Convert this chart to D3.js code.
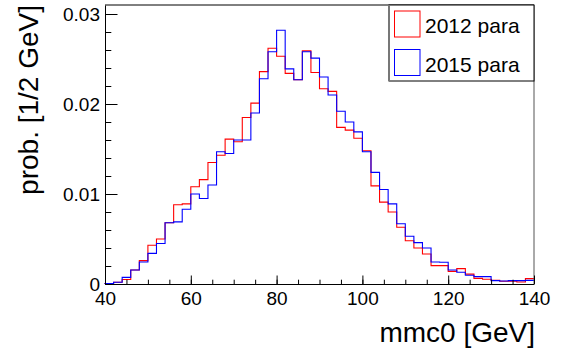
<!DOCTYPE html>
<html>
<head>
<meta charset="utf-8">
<script src="https://cdn.jsdelivr.net/npm/d3@7"></script>
<style>
  html, body { margin: 0; padding: 0; background: #fff; }
  svg { display: block; }
  text { font-family: "Liberation Sans", Arial, Helvetica, sans-serif; fill: #000; }
</style>
</head>
<body>
<svg id="chart" width="561" height="356"></svg>
<script>
// ---- data ----
const binEdges = d3.range(40, 141, 2); // 50 bins of 2 GeV, 40..140
const series2012 = [
  0.00005, 0.0002, 0.0005, 0.00156, 0.0026, 0.0043, 0.0050, 0.0068, 0.0088, 0.0089,
  0.0108, 0.0116, 0.0135, 0.0143, 0.0161, 0.0158, 0.0185, 0.0201, 0.0236, 0.0262,
  0.0253, 0.0234, 0.0227, 0.0259, 0.0235, 0.0217, 0.0214, 0.0174, 0.0171, 0.0162,
  0.0148, 0.0109, 0.0091, 0.0080, 0.0063, 0.0048, 0.0040, 0.00334, 0.00204, 0.00204,
  0.0014, 0.00171, 0.0011, 0.00063, 0.00052, 0.00041, 0.0003, 0.0003, 0.00022, 0.0006
];
const series2015 = [
  0.00005, 0.0002, 0.00074, 0.00156, 0.00245, 0.0034, 0.0045, 0.0068, 0.0069, 0.0083,
  0.0100, 0.0095, 0.0110, 0.0147, 0.0145, 0.0160, 0.0160, 0.0190, 0.0228, 0.0258,
  0.0282, 0.0239, 0.0227, 0.0258, 0.0251, 0.0230, 0.0210, 0.0192, 0.0180, 0.0169,
  0.0147, 0.0124, 0.0105, 0.0089, 0.0067, 0.0053, 0.0046, 0.0040, 0.00245, 0.00242,
  0.00156, 0.0013, 0.00097, 0.00082, 0.00082, 0.00037, 0.00033, 0.00037, 0.00037, 0.0004
];
const xMajorTicks = [40, 60, 80, 100, 120, 140];
const xMinorTicks = d3.range(40, 141, 5);
const yMajorTicks = [0, 0.01, 0.02, 0.03];
const yTickLabels = ["0", "0.01", "0.02", "0.03"];
const yMinorTicks = d3.range(0, 0.0311, 0.002);
const legendLabels = ["2012 para", "2015 para"];
const seriesColors = ["#ff0000", "#0000ff"];
const xTitle = "mmc0 [GeV]";
const yTitle = "prob. [1/2 GeV]";

// ---- layout ----
const L = 105, R = 534, T = 5, B = 284;
const svg = d3.select("#chart");
const x = d3.scaleLinear().domain([40, 140]).range([L, R]);
const y = d3.scaleLinear().domain([0, 0.031]).range([B, T]);

// histograms
function stepPath(vals) {
  const p = d3.path();
  p.moveTo(x(binEdges[0]), y(0));
  vals.forEach((v, i) => {
    p.lineTo(x(binEdges[i]), y(v));
    p.lineTo(x(binEdges[i + 1]), y(v));
  });
  return p.toString();
}
[series2012, series2015].forEach((s, i) => {
  svg.append("path").attr("d", stepPath(s))
    .attr("fill", "none").attr("stroke", seriesColors[i]).attr("stroke-width", 1.1);
});

// frame top & right
svg.append("line").attr("x1", L).attr("x2", R).attr("y1", T).attr("y2", T)
  .attr("stroke", "#000").attr("stroke-width", 1);
svg.append("line").attr("x1", R).attr("x2", R).attr("y1", T).attr("y2", B)
  .attr("stroke", "#555").attr("stroke-width", 1);

// x axis
const gx = svg.append("g").attr("transform", `translate(0,${B})`);
gx.call(d3.axisBottom(x).tickValues(xMinorTicks).tickSizeInner(-4.3).tickSizeOuter(0).tickFormat(""));
gx.call(g => g.selectAll(".tick line").attr("stroke", "#000"));
const gx2 = svg.append("g").attr("transform", `translate(0,${B})`);
gx2.call(d3.axisBottom(x).tickValues(xMajorTicks).tickSizeInner(-8.5).tickSizeOuter(0).tickPadding(0).tickFormat(d3.format("d")));
gx2.select(".domain").attr("stroke", "#000");
gx2.selectAll(".tick text").attr("font-size", 19).attr("dy", null).attr("y", 20.5)
  .attr("font-family", '"Liberation Sans", Arial, sans-serif').attr("fill", "#000");
gx.select(".domain").remove();

// y axis
const gy = svg.append("g").attr("transform", `translate(${L},0)`);
gy.call(d3.axisLeft(y).tickValues(yMinorTicks).tickSizeInner(-6.3).tickSizeOuter(0).tickFormat(""));
gy.select(".domain").remove();
const gy2 = svg.append("g").attr("transform", `translate(${L},0)`);
gy2.call(d3.axisLeft(y).tickValues(yMajorTicks).tickSizeInner(-12.5).tickSizeOuter(0).tickPadding(0)
  .tickFormat((d, i) => yTickLabels[i]));
gy2.select(".domain").attr("stroke", "#000");
gy2.selectAll(".tick text").attr("font-size", 19).attr("x", -5).attr("dy", "0.35em")
  .attr("font-family", '"Liberation Sans", Arial, sans-serif').attr("fill", "#000");

// axis titles
svg.append("text").attr("x", 535).attr("y", 342).attr("text-anchor", "end")
  .attr("font-size", 28).text(xTitle);
svg.append("text").attr("transform", "translate(38,5) rotate(-90)").attr("text-anchor", "end")
  .attr("font-size", 28).text(yTitle);

// legend
const lg = svg.append("g");
lg.append("rect").attr("x", 389).attr("y", T).attr("width", R - 389).attr("height", 81 - T)
  .attr("fill", "#fff").attr("stroke", "#000").attr("stroke-width", 1);
lg.append("line").attr("x1", 389).attr("x2", 389).attr("y1", T).attr("y2", 81)
  .attr("stroke", "#777").attr("stroke-width", 2);
legendLabels.forEach((lab, i) => {
  const cy = 24 + i * 38.5;
  lg.append("rect").attr("x", 394.5).attr("y", cy - 13).attr("width", 25.5).attr("height", 26)
    .attr("fill", "#fff").attr("stroke", seriesColors[i]).attr("stroke-width", 1);
  lg.append("text").attr("x", 425).attr("y", cy + 9.3).attr("font-size", 21).text(lab);
});
</script>
</body>
</html>
